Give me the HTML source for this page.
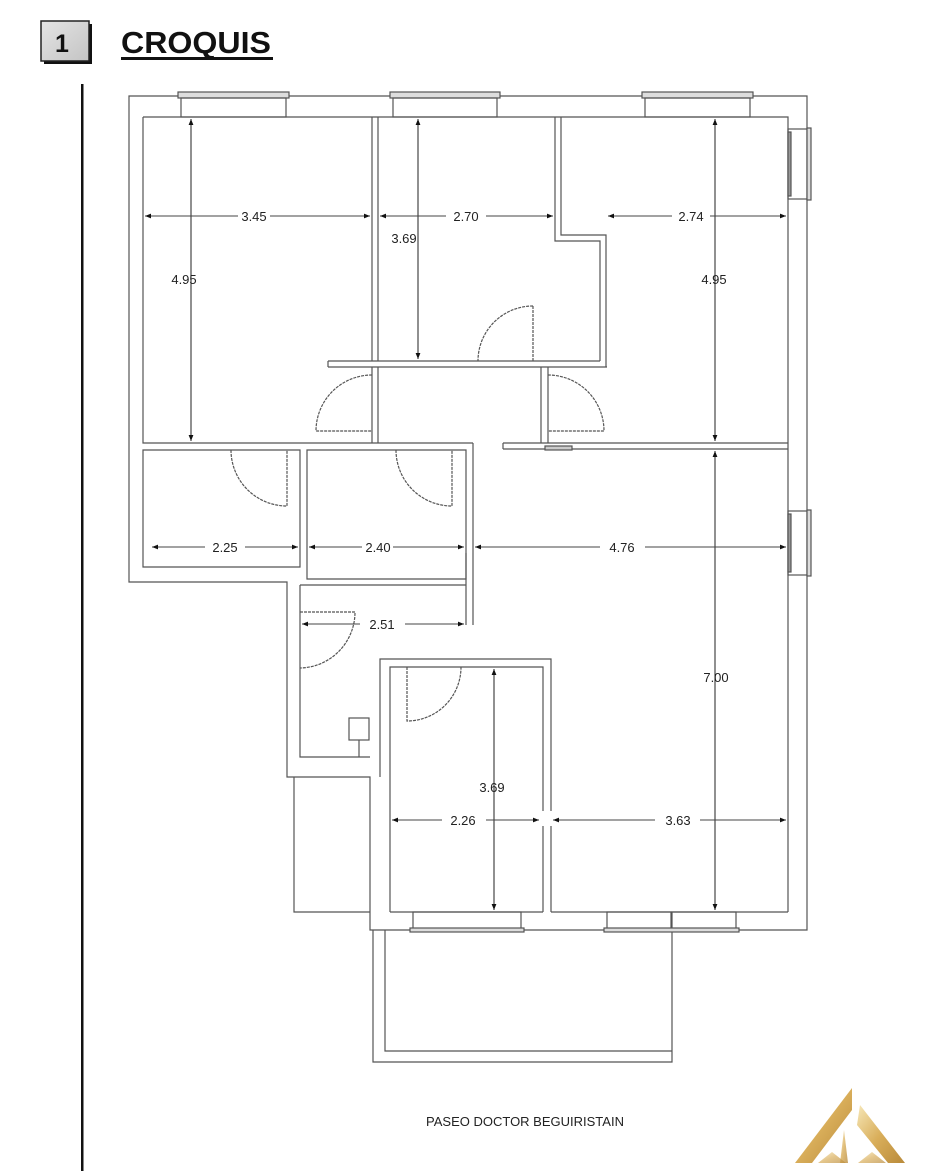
<!DOCTYPE html>
<html><head><meta charset="utf-8"><style>
html,body{margin:0;padding:0;background:#fff;width:933px;height:1171px;overflow:hidden}
svg{display:block}
</style></head><body>
<svg width="933" height="1171" viewBox="0 0 933 1171" xmlns="http://www.w3.org/2000/svg" font-family="Liberation Sans, Arial, sans-serif">
<defs>
<linearGradient id="g1" x1="0" y1="0" x2="1" y2="1"><stop offset="0" stop-color="#e4e4e4"/><stop offset="1" stop-color="#c4c4c4"/></linearGradient>
<linearGradient id="gold" x1="0" y1="0" x2="1" y2="1"><stop offset="0" stop-color="#f6e7b8"/><stop offset="0.5" stop-color="#d9ae5a"/><stop offset="1" stop-color="#b98a3a"/></linearGradient>
<marker id="a" viewBox="0 0 10 10" refX="10" refY="5" markerUnits="userSpaceOnUse" markerWidth="11" markerHeight="6" orient="auto-start-reverse"><path d="M0,1 L10,5 L0,9 z" fill="#111"/></marker>
</defs>
<!-- header -->
<rect x="44" y="24" width="48" height="40" fill="#111"/>
<rect x="41" y="21" width="48" height="40" fill="url(#g1)" stroke="#222" stroke-width="1.5"/>
<text x="55" y="52" font-size="25" font-weight="bold" fill="#111">1</text>
<text x="121" y="53" font-size="31" font-weight="bold" fill="#111" textLength="150" lengthAdjust="spacingAndGlyphs">CROQUIS</text>
<rect x="121" y="57" width="152" height="3" fill="#111"/>
<rect x="81" y="84" width="2.5" height="1087" fill="#111"/>

<g fill="none" stroke="#555" stroke-width="1.2">
<path d="M129 96 H807 V930 H370 V777 H287 V582 H129 Z"/>
<path d="M143 117 H788 V912"/>
<path d="M143 117 V443 H473"/>
<path d="M143 450 V567 H300 V450 Z"/>
<path d="M307 450 V579 H466 V450 Z"/>
<path d="M473 443 V553"/>
<path d="M466 553 V625 M473 553 V625"/>
<path d="M300 585 H466 M300 585 V757 H370"/>
<rect x="349" y="718" width="20" height="22"/>
<path d="M359 740 V757"/>
<path d="M380 777 V659 H551 V811 M551 826 V912"/>
<path d="M390 912 V667 H543 V811 M543 826 V912"/>
<path d="M390 912 H543 M551 912 H788"/>
<path d="M294 777 V912 H370"/>
<path d="M373 930 V1062 H672 V930 M385 930 V1051 H672"/>
<path d="M372 117 V361 M378 117 V361 M372 367 V443 M378 367 V443"/>
<path d="M328 361 H600 M328 367 H607 M328 361 V367"/>
<path d="M555 117 V241 H600 V361 M561 117 V235 H606 V367"/>
<path d="M541 367 V443 M548 367 V443"/>
<path d="M503 443 H788 M503 449 H788 M503 443 V449"/>
<rect x="545" y="446" width="27" height="4" fill="#ccc"/>
<rect x="178" y="92" width="111" height="6" fill="#ddd"/><rect x="181" y="98" width="105" height="19"/>
<rect x="390" y="92" width="110" height="6" fill="#ddd"/><rect x="393" y="98" width="104" height="19"/>
<rect x="642" y="92" width="111" height="6" fill="#ddd"/><rect x="645" y="98" width="105" height="19"/>
<rect x="788" y="129" width="20" height="70"/><rect x="807" y="128" width="4" height="72" fill="#ddd"/><rect x="788" y="132" width="3" height="64" fill="#999"/>
<rect x="788" y="511" width="20" height="64"/><rect x="807" y="510" width="4" height="66" fill="#ddd"/><rect x="788" y="514" width="3" height="58" fill="#999"/>
<rect x="413" y="912" width="108" height="18"/><rect x="410" y="928" width="114" height="4" fill="#ddd"/>
<rect x="607" y="912" width="64" height="18"/><rect x="672" y="912" width="64" height="18"/><rect x="604" y="928" width="135" height="4" fill="#ddd"/>
<path d="M533 306 V361 M533 306 A55 55 0 0 0 478 361" stroke-dasharray="3 1"/>
<path d="M372 375 A56 56 0 0 0 316 431 H372" stroke-dasharray="3 1"/>
<path d="M548 375 A56 56 0 0 1 604 431 H548" stroke-dasharray="3 1"/>
<path d="M231 450 A56 56 0 0 0 287 506 V450" stroke-dasharray="3 1"/>
<path d="M396 450 A56 56 0 0 0 452 506 V450" stroke-dasharray="3 1"/>
<path d="M300 612 H355 A56 56 0 0 1 300 668" stroke-dasharray="3 1"/>
<path d="M407 667 V721 A54 54 0 0 0 461 667" stroke-dasharray="3 1"/>
</g>

<g stroke="#222" stroke-width="1" fill="none">
<line x1="191" y1="119" x2="191" y2="441" marker-start="url(#a)" marker-end="url(#a)"/>
<line x1="418" y1="119" x2="418" y2="359" marker-start="url(#a)" marker-end="url(#a)"/>
<line x1="715" y1="119" x2="715" y2="441" marker-start="url(#a)" marker-end="url(#a)"/>
<line x1="715" y1="451" x2="715" y2="910" marker-start="url(#a)" marker-end="url(#a)"/>
<line x1="494" y1="669" x2="494" y2="910" marker-start="url(#a)" marker-end="url(#a)"/>
</g>
<g stroke="#444" stroke-width="0.9" fill="none">
<line x1="270" y1="216" x2="370" y2="216" marker-end="url(#a)"/>
<line x1="145" y1="216" x2="238" y2="216" marker-start="url(#a)"/>
<line x1="380" y1="216" x2="446" y2="216" marker-start="url(#a)"/>
<line x1="486" y1="216" x2="553" y2="216" marker-end="url(#a)"/>
<line x1="608" y1="216" x2="672" y2="216" marker-start="url(#a)"/>
<line x1="710" y1="216" x2="786" y2="216" marker-end="url(#a)"/>
<line x1="152" y1="547" x2="205" y2="547" marker-start="url(#a)"/>
<line x1="245" y1="547" x2="298" y2="547" marker-end="url(#a)"/>
<line x1="309" y1="547" x2="362" y2="547" marker-start="url(#a)"/>
<line x1="393" y1="547" x2="464" y2="547" marker-end="url(#a)"/>
<line x1="475" y1="547" x2="600" y2="547" marker-start="url(#a)"/>
<line x1="645" y1="547" x2="786" y2="547" marker-end="url(#a)"/>
<line x1="302" y1="624" x2="360" y2="624" marker-start="url(#a)"/>
<line x1="405" y1="624" x2="464" y2="624" marker-end="url(#a)"/>
<line x1="392" y1="820" x2="442" y2="820" marker-start="url(#a)"/>
<line x1="486" y1="820" x2="539" y2="820" marker-end="url(#a)"/>
<line x1="553" y1="820" x2="655" y2="820" marker-start="url(#a)"/>
<line x1="700" y1="820" x2="786" y2="820" marker-end="url(#a)"/>
</g>
<g font-size="13" fill="#222" text-anchor="middle">
<text x="254" y="221">3.45</text>
<text x="466" y="221">2.70</text>
<text x="691" y="221">2.74</text>
<text x="404" y="243">3.69</text>
<text x="184" y="284">4.95</text>
<text x="714" y="284">4.95</text>
<text x="225" y="552">2.25</text>
<text x="378" y="552">2.40</text>
<text x="622" y="552">4.76</text>
<text x="382" y="629">2.51</text>
<text x="716" y="682">7.00</text>
<text x="492" y="792">3.69</text>
<text x="463" y="825">2.26</text>
<text x="678" y="825">3.63</text>
<text x="525" y="1126" font-size="13">PASEO DOCTOR BEGUIRISTAIN</text>
</g>
<g fill="url(#gold)">
<path d="M852 1088 L795 1163 L812 1163 L852 1110 Z"/>
<path d="M860 1105 L905 1163 L888 1163 L857 1125 Z"/>
<path d="M844 1130 L840 1163 L848 1163 Z" opacity="0.8"/>
<path d="M818 1163 L832 1152 L846 1163 Z" opacity="0.7"/>
<path d="M858 1163 L872 1152 L886 1163 Z" opacity="0.7"/>
</g>
</svg>
</body></html>
